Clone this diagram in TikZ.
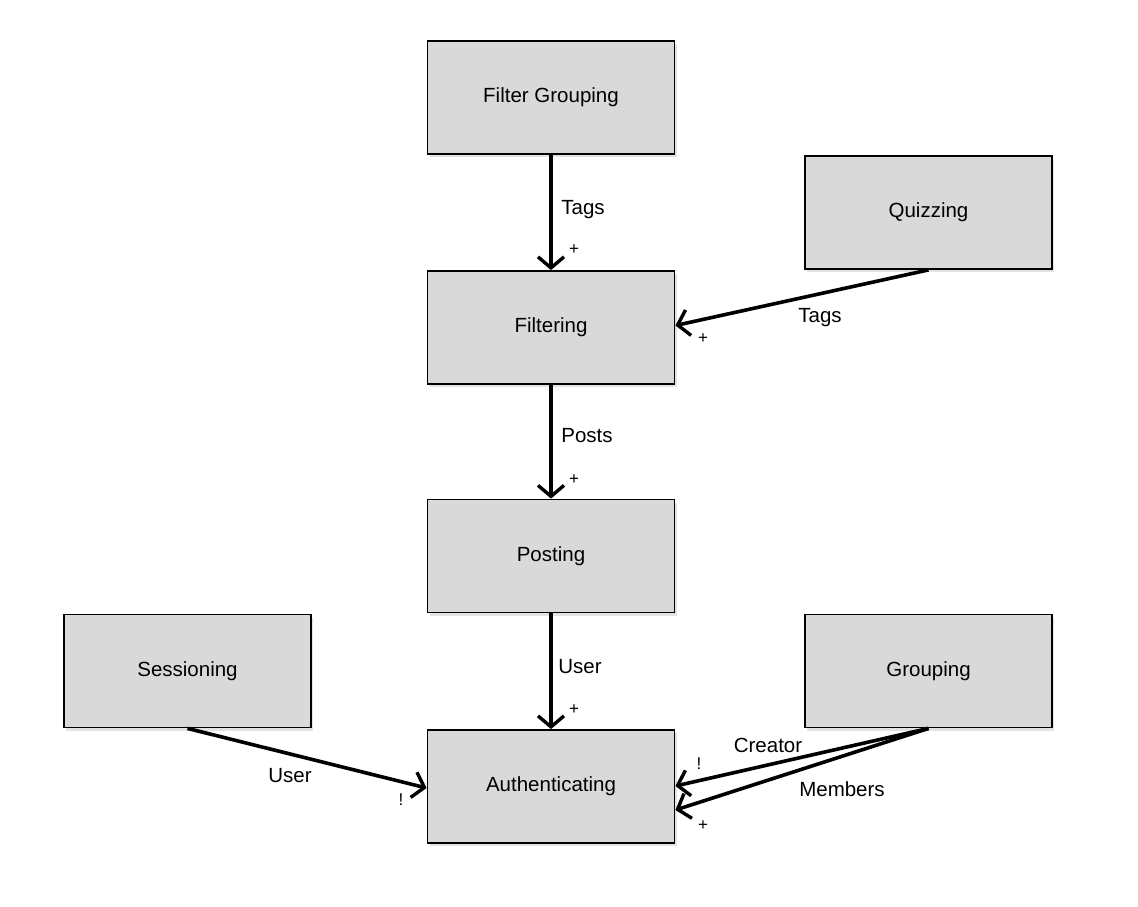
\documentclass[tikz,border=0pt]{standalone}
\usepackage{fontspec}
\setmainfont{Liberation Sans}
\usetikzlibrary{arrows.meta,shadows,calc}
\begin{document}
\begin{tikzpicture}[x=1pt,y=-1pt,
  box/.style={draw=black, line width=1.8pt, fill={rgb,255:red,217;green,217;blue,217},
    minimum width=247pt, minimum height=113pt, inner sep=0pt,
    drop shadow={opacity=0.22, shadow xshift=2pt, shadow yshift=-3pt},
    font=\fontsize{20.5}{24}\selectfont},
  conn/.style={line width=3.6pt, -{Straight Barb[length=11pt,width=26pt,line width=3.4pt]}},
  lbl/.style={font=\fontsize{20.5}{24}\selectfont, inner sep=0pt},
  mult/.style={font=\fontsize{17}{20}\selectfont, inner sep=0pt}]
\useasboundingbox (0,0) rectangle (1138,906);
\node[box] (fg)   at (551,97.5)  {Filter Grouping};
\node[box] (quiz) at (928.5,212.5) {Quizzing};
\node[box] (fil)  at (551,327.5) {Filtering};
\node[box] (post) at (551,556)   {Posting};
\node[box] (sess) at (187.5,671) {Sessioning};
\node[box] (grp)  at (928.5,671) {Grouping};
\node[box] (auth) at (551,786.5) {Authenticating};

\draw[conn] (fg.south) -- (fil.north);
\node[lbl] (l1) at (583,210) {Tags};
\node[mult] (m1) at (574,250) {+};

\draw[conn] (quiz.south) -- ($(fil.east)+(0,-2)$);
\node[lbl] (l2) at (820,318) {Tags};
\node[mult] (m2) at (703,339) {+};

\draw[conn] (fil.south) -- (post.north);
\node[lbl] (l3) at (587,436) {Posts};
\node[mult] (m3) at (574,480) {+};

\draw[conn] (post.south) -- (auth.north);
\node[lbl] (l4) at (580,667) {User};
\node[mult] (m4) at (574,710) {+};

\draw[conn] (sess.south) -- ($(auth.west)+(0,1.5)$);
\node[lbl] (l5) at (290,776) {User};
\node[mult] (m5) at (401,800) {!};

\draw[conn] (grp.south) -- ($(auth.east)+(0,-0.5)$);
\node[lbl] (l6) at (768,745) {Creator};
\node[mult] (m6) at (699,764) {!};

\draw[conn] (grp.south) -- ($(auth.east)+(0,23.5)$);
\node[lbl] (l7) at (842,789) {Members};
\node[mult] (m7) at (703,826) {+};
\end{tikzpicture}
\end{document}
